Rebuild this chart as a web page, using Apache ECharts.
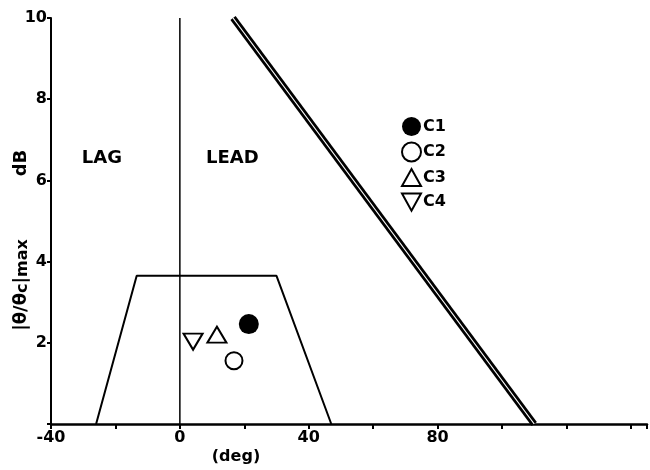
<!DOCTYPE html>
<html>
<head>
<meta charset="utf-8">
<script src="https://cdn.jsdelivr.net/npm/echarts@6/dist/echarts.min.js"></script>
<style>
  html, body { margin: 0; padding: 0; background: #fff; }
  #chart { width: 650px; height: 470px; }
</style>
</head>
<body>
<div id="chart"></div>
<script>
// Phase (deg) vs normalised amplitude |θ/θc|max (dB)
const xTickLabels = [-40, 0, 40, 80];
const yTickLabels = [2, 4, 6, 8, 10];

// measured responses
const c1 = [[21.4, 2.46]];
const c2 = [[16.8, 1.56]];
const c3 = [[11.5, 2.2]];
const c4 = [[4.1, 2.03]];

// acceptable region (trapezoid)
const regionOutline = [[-26, 0], [-13.4, 3.65], [30, 3.65], [47, 0]];
// stability boundary
const boundaryLine = [[16.5, 10], [110, 0]];
// zero-phase divider
const zeroPhase = [[0, 0], [0, 10]];
// region captions
const regionNames = ['LAG', 'LEAD'];
const regionNamePos = [[-24.2, 6.55], [16.3, 6.55]];

const FONT = 'DejaVu Sans';
const chart = echarts.init(document.getElementById('chart'));

const solid = { color: '#000', opacity: 1 };
const hollow = { color: '#fff', borderColor: '#000', borderWidth: 2, opacity: 1 };
const upTri = 'path://M5,0 L10,9 L0,9 Z';
const downTri = 'path://M0,0 L10,0 L5,9 Z';

chart.setOption({
  animation: false,
  backgroundColor: '#fff',
  textStyle: { fontFamily: FONT },
  grid: { left: 51, right: 2, top: 18, bottom: 46 },
  legend: {
    data: ['C1', 'C2', 'C3', 'C4'],
    orient: 'vertical',
    left: 401,
    top: 117,
    padding: 0,
    itemWidth: 19,
    itemHeight: 19,
    itemGap: 5.5,
    textStyle: {
      fontFamily: FONT, fontWeight: 'bold', fontSize: 16, color: '#000',
      lineHeight: 19, padding: [0, 0, 0, -3]
    }
  },
  xAxis: {
    type: 'value',
    min: -40,
    max: 145,
    interval: 20,
    splitLine: { show: false },
    axisLine: { onZero: false, lineStyle: { color: '#000', width: 2.5 } },
    axisTick: { length: 5, lineStyle: { color: '#000', width: 2 } },
    axisLabel: {
      color: '#000', fontWeight: 'bold', fontSize: 16, margin: 6,
      formatter: v => (xTickLabels.indexOf(v) >= 0 ? String(v) : '')
    }
  },
  yAxis: {
    type: 'value',
    min: 0,
    max: 10,
    interval: 2,
    splitLine: { show: false },
    axisLine: { onZero: false, lineStyle: { color: '#000', width: 2 } },
    axisTick: { length: 4, lineStyle: { color: '#000', width: 2 } },
    axisLabel: {
      color: '#000', fontWeight: 'bold', fontSize: 16, margin: 4,
      formatter: v => (yTickLabels.indexOf(v) >= 0 ? String(v) : '')
    }
  },
  graphic: [
    {
      type: 'text',
      x: 21, y: 285,
      rotation: Math.PI / 2,
      style: {
        text: '|θ/θ{s|c}|{s|max}',
        fontFamily: FONT, fontWeight: 'bold', fontSize: 18, fill: '#000',
        align: 'center', verticalAlign: 'middle',
        rich: { s: { fontFamily: FONT, fontWeight: 'bold', fontSize: 16, padding: [4, 0, 0, 0] } }
      }
    },
    {
      type: 'text',
      x: 21, y: 163,
      rotation: Math.PI / 2,
      style: {
        text: 'dB',
        fontFamily: FONT, fontWeight: 'bold', fontSize: 18, fill: '#000',
        align: 'center', verticalAlign: 'middle'
      }
    },
    {
      type: 'text',
      x: 236, y: 457,
      style: {
        text: '(deg)', fontFamily: FONT, fontWeight: 'bold', fontSize: 16, fill: '#000',
        align: 'center', verticalAlign: 'middle'
      }
    }
  ],
  series: [
    {
      name: 'zero', type: 'line', data: zeroPhase, showSymbol: false, silent: true,
      lineStyle: { color: '#000', width: 1.5 }
    },
    {
      name: 'region', type: 'line', data: regionOutline, showSymbol: false, silent: true,
      lineStyle: { color: '#000', width: 2 }
    },
    {
      name: 'boundary', type: 'line', data: boundaryLine, showSymbol: false, silent: true,
      lineStyle: { color: '#000', width: 6.5 }
    },
    {
      name: 'boundaryInner', type: 'line', data: boundaryLine, showSymbol: false, silent: true,
      lineStyle: { color: '#fff', width: 1.2 }
    },
    {
      name: 'captions', type: 'scatter', symbolSize: 0, silent: true,
      itemStyle: { opacity: 1 },
      data: regionNamePos.map((p, i) => ({ value: p, name: regionNames[i] })),
      label: {
        show: true, position: 'inside', formatter: p => p.name,
        fontFamily: FONT, fontWeight: 'bold', fontSize: 18, color: '#000'
      }
    },
    { name: 'C1', type: 'scatter', data: c1, symbol: 'circle', symbolSize: 20, itemStyle: solid },
    { name: 'C2', type: 'scatter', data: c2, symbol: 'circle', symbolSize: 17, itemStyle: hollow },
    { name: 'C3', type: 'scatter', data: c3, symbol: upTri, symbolSize: [19, 16], itemStyle: hollow },
    { name: 'C4', type: 'scatter', data: c4, symbol: downTri, symbolSize: [19, 16], itemStyle: hollow }
  ]
});
</script>
</body>
</html>
